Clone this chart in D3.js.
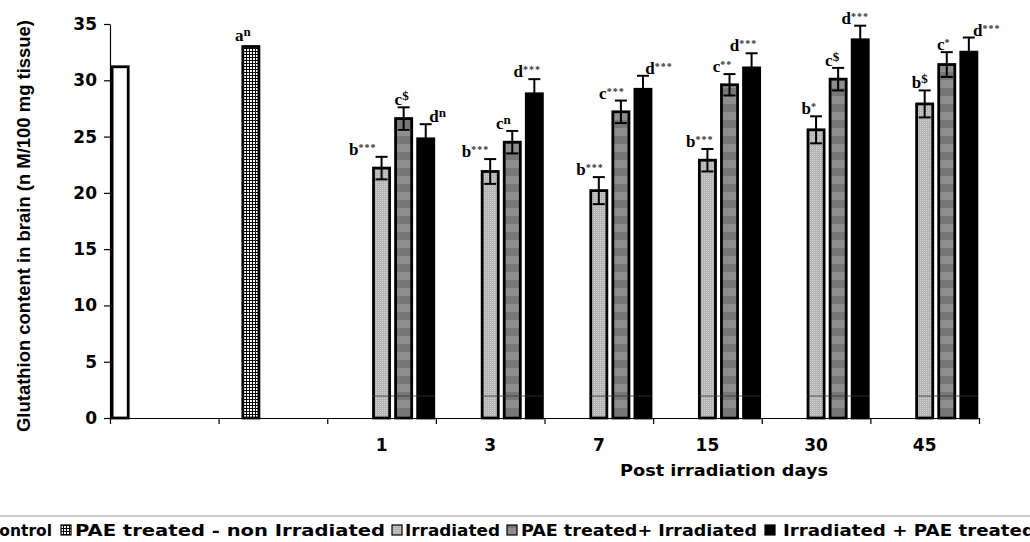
<!DOCTYPE html>
<html lang="en">
<head>
<meta charset="utf-8">
<script src="https://cdn.jsdelivr.net/npm/d3@7"></script>
<style>
  body { margin: 0; background: #fff; }
  svg { display: block; }
  .tick text { font-family: "DejaVu Sans", Arial, sans-serif; font-weight: bold; font-size: 17px; fill: #000; }
</style>
</head>
<body>
<script>

var categories = ["control", "pae", "1", "3", "7", "15", "30", "45"];
var tickLabels = ["", "", "1", "3", "7", "15", "30", "45"];
var seriesNames = ["Control", "PAE treated - non Irradiated", "Irradiated", "PAE treated+ Irradiated", "Irradiated + PAE treated"];
var yTicks = [0, 5, 10, 15, 20, 25, 30, 35];

var controlValues = [31.2, null, null, null, null, null, null, null];
var paeValues     = [null, 33.0, null, null, null, null, null, null];
var irrValues     = [null, null, 22.2, 21.9, 20.2, 22.9, 25.6, 27.9];
var irrErrors     = [null, null, 1.0, 1.1, 1.2, 1.0, 1.2, 1.2];
var paeIrrValues  = [null, null, 26.6, 24.5, 27.2, 29.6, 30.1, 31.4];
var paeIrrErrors  = [null, null, 1.0, 1.0, 1.0, 0.95, 1.0, 1.1];
var irrPaeValues  = [null, null, 24.8, 28.8, 29.2, 31.1, 33.6, 32.5];
var irrPaeErrors  = [null, null, 1.3, 1.3, 1.2, 1.3, 1.25, 1.3];

// significance marks (letter + superscript)
var paeMarks    = [null, "n", null, null, null, null, null, null];
var irrMarks    = [null, null, "***", "***", "***", "***", "*", "$"];
var paeIrrMarks = [null, null, "$", "n", "***", "**", "$", "*"];
var irrPaeMarks = [null, null, "n", "***", "***", "***", "***", "***"];

var w = 1030, h = 542;
var plotLeft = 110, plotRight = 979, plotTop = 24, plotBottom = 418;

var svg = d3.select("body").append("svg")
    .attr("width", w)
    .attr("height", h);

// patterns
var defs = svg.append("defs");

var pChk = defs.append("pattern").attr("id", "chk")
    .attr("patternUnits", "userSpaceOnUse").attr("width", 3).attr("height", 3);
pChk.append("rect").attr("width", 3).attr("height", 3).attr("fill", "#000");
pChk.append("rect").attr("x", 1).attr("y", 1).attr("width", 2).attr("height", 2).attr("fill", "#fff");

var pDot = defs.append("pattern").attr("id", "dots")
    .attr("patternUnits", "userSpaceOnUse").attr("width", 2).attr("height", 2);
pDot.append("rect").attr("width", 2).attr("height", 2).attr("fill", "#b4b4b4");
pDot.append("rect").attr("width", 1).attr("height", 1).attr("fill", "#d2d2d2");

var pStr = defs.append("pattern").attr("id", "stripes")
    .attr("patternUnits", "userSpaceOnUse").attr("width", 4).attr("height", 16);
pStr.append("rect").attr("width", 4).attr("height", 16).attr("fill", "#8e8e8e");
pStr.append("rect").attr("y", 8).attr("width", 4).attr("height", 8).attr("fill", "#777");

var series = [
  { name: seriesNames[0], values: controlValues, errors: null, marks: null, letter: "", fill: "#fff" },
  { name: seriesNames[1], values: paeValues, errors: null, marks: paeMarks, letter: "a", fill: "url(#chk)" },
  { name: seriesNames[2], values: irrValues, errors: irrErrors, marks: irrMarks, letter: "b", fill: "url(#dots)" },
  { name: seriesNames[3], values: paeIrrValues, errors: paeIrrErrors, marks: paeIrrMarks, letter: "c", fill: "url(#stripes)" },
  { name: seriesNames[4], values: irrPaeValues, errors: irrPaeErrors, marks: irrPaeMarks, letter: "d", fill: "#000" }
];

// hand placed label nudges (px), like in the original figure
var labelDx = {
  a: [0, -8, 0, 0, 0, 0, 0, 0],
  b: [0, 0, -5, -1, 5, 6, 1, 3],
  c: [0, 0, -2, -9, -9, -7, -6, -3],
  d: [0, 0, 12, -7, 16, -8, -5, 18]
};
var labelAnchor = { a: "middle", b: "end", c: "middle", d: "middle" };

var yScale = d3.scaleLinear().domain([0, 35]).range([plotBottom, plotTop]);
var x0 = d3.scaleBand().domain(categories).range([plotLeft, plotRight]).padding(0);
var x1 = d3.scaleBand().domain(seriesNames).range([0, x0.bandwidth()])
    .paddingInner(0.18).paddingOuter(0.05);

// y axis
svg.append("g")
    .attr("transform", "translate(" + plotLeft + ",0)")
    .call(d3.axisLeft(yScale).tickValues(yTicks).tickSize(6).tickSizeOuter(0).tickPadding(7))
    .call(function(g) {
      g.select(".domain").attr("stroke", "#000").attr("stroke-width", 1.2);
      g.selectAll(".tick line").attr("stroke", "#000").attr("stroke-width", 1.2);
    });

// bars
series.forEach(function(s) {
  var pts = categories.map(function(c, i) { return { c: c, i: i, v: s.values[i] }; })
      .filter(function(d) { return d.v != null; });

  svg.append("g").selectAll("rect")
    .data(pts)
    .enter().append("rect")
    .attr("x", function(d) { return x0(d.c) + x1(s.name) + 1; })
    .attr("y", function(d) { return yScale(d.v); })
    .attr("width", x1.bandwidth() - 2)
    .attr("height", function(d) { return plotBottom - yScale(d.v); })
    .attr("fill", s.fill)
    .attr("stroke", "#000")
    .attr("stroke-width", 2.8);
});

// thin line running through the bar groups near the base
svg.append("g").selectAll("line")
    .data(categories.slice(2))
    .enter().append("line")
    .attr("x1", function(d) { return x0(d) + x1(seriesNames[2]); })
    .attr("x2", function(d) { return x0(d) + x1(seriesNames[4]) + x1.bandwidth(); })
    .attr("y1", yScale(1.95)).attr("y2", yScale(1.95))
    .attr("stroke", "#333").attr("stroke-width", 0.8);

// error bars and marks
series.forEach(function(s) {
  var g = svg.append("g");
  var pts = categories.map(function(c, i) { return { c: c, i: i, v: s.values[i] }; })
      .filter(function(d) { return d.v != null; });
  var cx = function(d) { return x0(d.c) + x1(s.name) + x1.bandwidth() / 2; };

  if (s.errors) {
    var eb = g.selectAll(".err").data(pts).enter().append("g").attr("class", "err");
    eb.append("line")
      .attr("x1", cx).attr("x2", cx)
      .attr("y1", function(d) { return yScale(d.v - s.errors[d.i]); })
      .attr("y2", function(d) { return yScale(d.v + s.errors[d.i]); })
      .attr("stroke", "#000").attr("stroke-width", 2);
    [-1, 1].forEach(function(k) {
      eb.append("line")
        .attr("x1", function(d) { return cx(d) - 6; })
        .attr("x2", function(d) { return cx(d) + 6; })
        .attr("y1", function(d) { return yScale(d.v + k * s.errors[d.i]); })
        .attr("y2", function(d) { return yScale(d.v + k * s.errors[d.i]); })
        .attr("stroke", "#000").attr("stroke-width", 2);
    });
  }

  if (s.marks) {
    var lab = g.selectAll(".lab").data(pts.filter(function(d) { return s.marks[d.i]; }))
      .enter().append("text")
      .attr("class", "lab")
      .attr("x", function(d) { return cx(d) + labelDx[s.letter][d.i]; })
      .attr("y", function(d) {
        var e = s.errors ? s.errors[d.i] : 0;
        return yScale(d.v + e) - (s.errors ? 2 : 6);
      })
      .attr("text-anchor", labelAnchor[s.letter])
      .style("font-family", "'Liberation Serif', 'Times New Roman', serif")
      .style("font-weight", "bold")
      .style("font-size", "17px");
    lab.append("tspan").text(s.letter);
    lab.append("tspan")
      .attr("dy", function(d) { return s.marks[d.i].indexOf("*") >= 0 ? -4 : -5; })
      .style("font-size", function(d) { return s.marks[d.i].indexOf("*") >= 0 ? "10px" : "13px"; })
      .style("letter-spacing", function(d) { return s.marks[d.i].indexOf("*") >= 0 ? "1px" : "0px"; })
      .attr("fill", function(d) { return s.marks[d.i].indexOf("*") >= 0 ? "#333" : "#000"; })
      .text(function(d) { return s.marks[d.i]; });
  }
});

// x axis: labels centred on categories, ticks on boundaries
svg.append("g")
    .attr("transform", "translate(0," + plotBottom + ")")
    .call(d3.axisBottom(x0).tickSize(0).tickPadding(21)
      .tickFormat(function(d, i) { return tickLabels[i]; }))
    .call(function(g) { g.select(".domain").remove(); });

var bScale = d3.scaleLinear().domain([0, categories.length]).range([plotLeft, plotRight]);
svg.append("g")
    .attr("transform", "translate(0," + plotBottom + ")")
    .call(d3.axisBottom(bScale).tickValues(d3.range(categories.length + 1)).tickSize(6).tickSizeOuter(0).tickFormat(""))
    .call(function(g) {
      g.select(".domain").attr("stroke", "#000").attr("stroke-width", 1.2);
      g.selectAll(".tick line").attr("stroke", "#000").attr("stroke-width", 1.2);
    });

// axis titles
svg.append("text")
    .attr("transform", "translate(30," + 226 + ") rotate(-90)")
    .attr("text-anchor", "middle")
    .attr("textLength", 412)
    .attr("lengthAdjust", "spacingAndGlyphs")
    .style("font-family", "'Liberation Sans', Arial, sans-serif")
    .style("font-weight", "bold")
    .style("font-size", "18px")
    .text("Glutathion content in brain (n M/100 mg tissue)");

svg.append("text")
    .attr("x", 620)
    .attr("y", 476)
    .attr("textLength", 208)
    .attr("lengthAdjust", "spacingAndGlyphs")
    .style("font-family", "'DejaVu Sans', Arial, sans-serif")
    .style("font-weight", "bold")
    .style("font-size", "15px")
    .text("Post irradiation days");

// legend (box runs off both sides like the original)
var legend = svg.append("g");
legend.append("rect")
    .attr("x", -10).attr("y", 516).attr("width", w + 20).attr("height", 40)
    .attr("fill", "none").attr("stroke", "#aaa").attr("stroke-width", 1.2);

var legendX = [-28, 61, 392, 507, 765];
var legendTextX = [-12, 75, 405, 521, 783];
var legendTextW = [64, 310, 95, 236, 252];

series.forEach(function(s, i) {
  legend.append("rect")
    .attr("x", legendX[i]).attr("y", 525)
    .attr("width", 10).attr("height", 10)
    .attr("fill", s.fill).attr("stroke", "#000").attr("stroke-width", 1.2);
  legend.append("text")
    .attr("x", legendTextX[i]).attr("y", 536)
    .attr("textLength", legendTextW[i])
    .attr("lengthAdjust", "spacingAndGlyphs")
    .style("font-family", "'DejaVu Sans', Arial, sans-serif")
    .style("font-weight", "bold")
    .style("font-size", "16px")
    .text(s.name);
});

</script>
</body>
</html>
